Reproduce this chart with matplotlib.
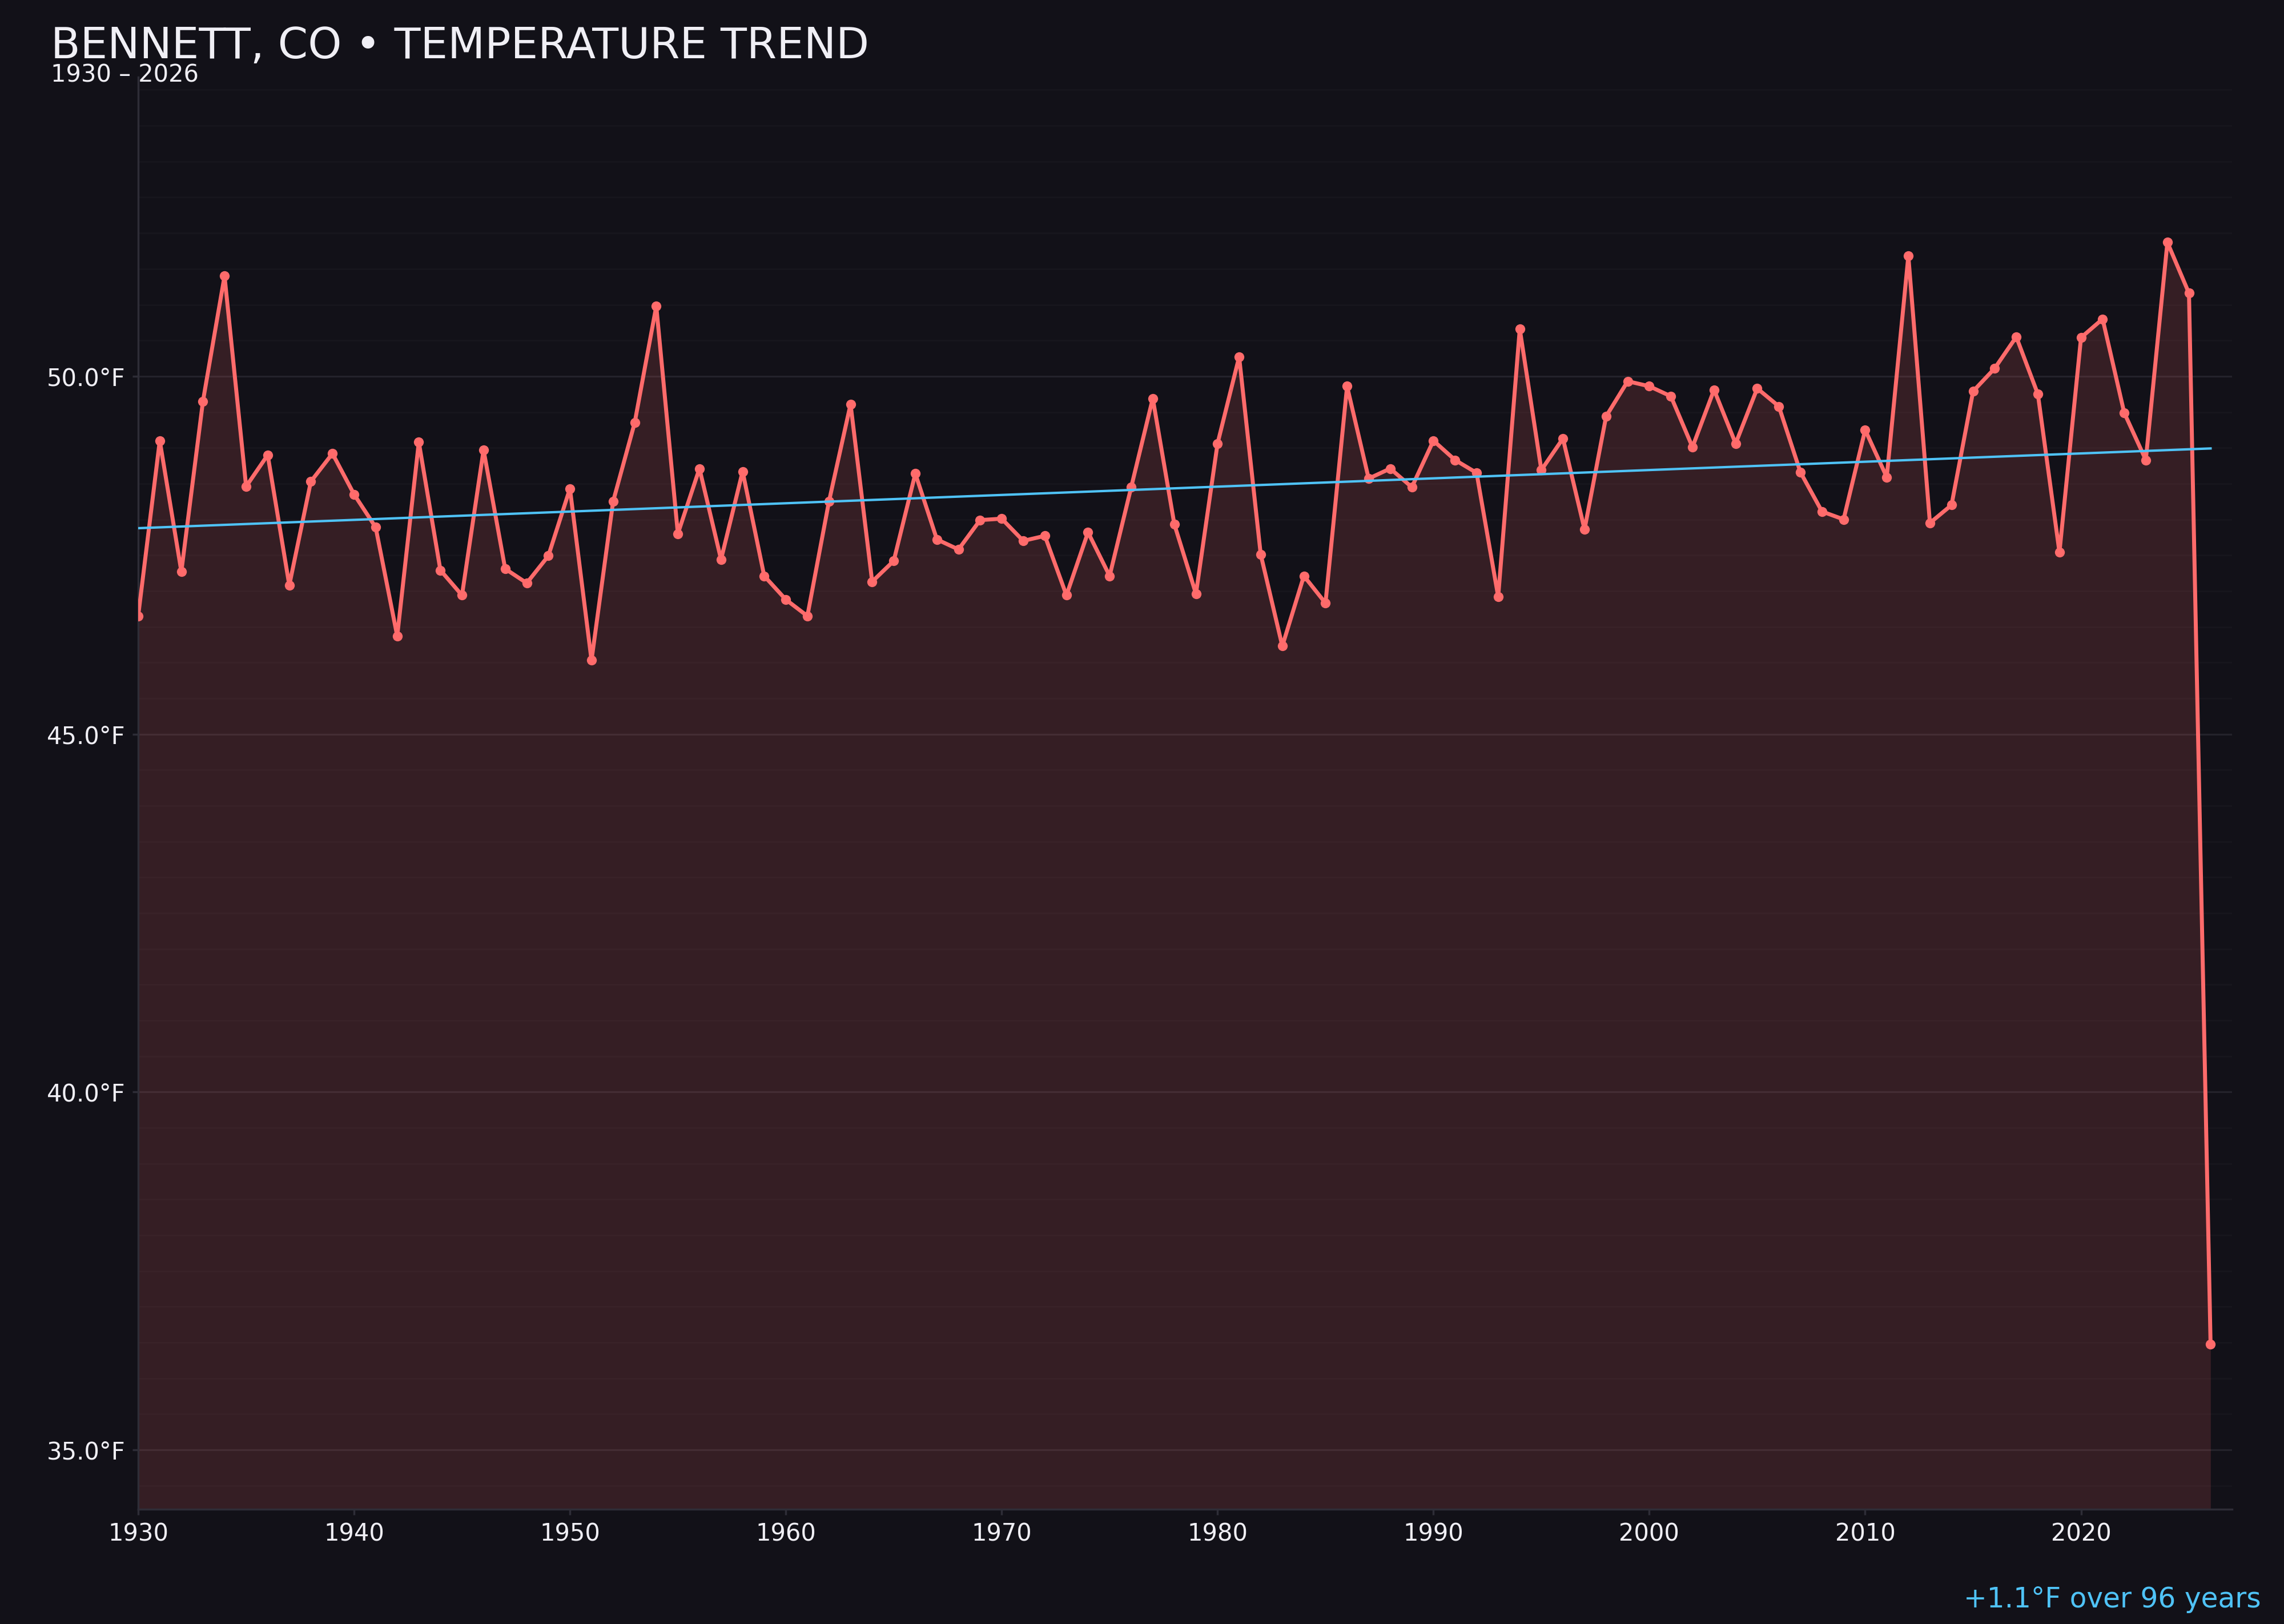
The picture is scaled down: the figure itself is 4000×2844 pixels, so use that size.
import numpy as np
import matplotlib
matplotlib.use("Agg")
import matplotlib.pyplot as plt
from matplotlib.ticker import MultipleLocator, FuncFormatter

# ---- data ----
years = list(range(1930, 2027))
temps = [
    46.65, 49.10, 47.27, 49.65, 51.40, 48.46, 48.90, 47.08, 48.53, 48.92,   # 1930-1939
    48.35, 47.89, 46.37, 49.08, 47.29, 46.94, 48.97, 47.31, 47.11, 47.49,   # 1940-1949
    48.43, 46.03, 48.25, 49.35, 50.98, 47.80, 48.71, 47.44, 48.67, 47.21,   # 1950-1959
    46.88, 46.65, 48.25, 49.61, 47.13, 47.42, 48.64, 47.72, 47.58, 47.99,   # 1960-1969
    48.01, 47.70, 47.77, 46.94, 47.82, 47.21, 48.45, 49.69, 47.93, 46.96,   # 1970-1979
    49.06, 50.27, 47.51, 46.23, 47.21, 46.83, 49.86, 48.57, 48.71, 48.45,   # 1980-1989
    49.10, 48.83, 48.65, 46.92, 50.66, 48.69, 49.13, 47.86, 49.44, 49.93,   # 1990-1999
    49.86, 49.72, 49.01, 49.81, 49.06, 49.83, 49.58, 48.66, 48.11, 48.00,   # 2000-2009
    49.25, 48.59, 51.68, 47.95, 48.20, 49.79, 50.11, 50.55, 49.75, 47.54,   # 2010-2019
    50.54, 50.80, 49.49, 48.83, 51.87, 51.16, 36.48,                        # 2020-2026
]
yticks = [35.0, 40.0, 45.0, 50.0]
title = "BENNETT, CO \u2022 TEMPERATURE TREND"
subtitle = "1930 \u2013 2026"

# ---- style ----
BG = "#121118"
RED = "#ff6b6b"
BLUE = "#4fc3f7"
TXT = "#f0eff5"
GRID_MAJ = "#24232b"
GRID_MIN = "#17161d"
SPINE = "#2e2d37"

plt.rcParams["font.family"] = ["DejaVu Sans"]

x = np.array(years, dtype=float)
y = np.array(temps, dtype=float)

fig = plt.figure(figsize=(16, 11.376), dpi=250, facecolor=BG)
ax = fig.add_axes([0.0605, 0.0707, 0.9168, 0.8818])
ax.set_facecolor(BG)

rng = y.max() - y.min()
ylo, yhi = y.min() - 0.15 * rng, y.max() + 0.15 * rng
ax.set_ylim(ylo, yhi)
ax.set_xlim(x.min(), x.max() + 1)

ax.fill_between(x, y, ylo, color=RED, alpha=0.15, linewidth=0, zorder=1)
ax.plot(x, y, color=RED, linewidth=2.0, marker="o", markersize=5.0,
        markeredgewidth=0, zorder=3)

# linear trend over all years
slope, icpt = np.polyfit(x, y, 1)
xt = np.array([x.min(), x.max()])
ax.plot(xt, slope * xt + icpt, color=BLUE, linewidth=1.2, zorder=4)

change = slope * (x.max() - x.min())
fig.text(0.990, 0.0102, f"{change:+.1f}\u00b0F over {int(x.max() - x.min())} years",
         color=BLUE, fontsize=14, ha="right", va="baseline")

ax.set_yticks(yticks)
ax.yaxis.set_minor_locator(MultipleLocator(0.5))
ax.yaxis.set_major_formatter(FuncFormatter(lambda v, p: f"{v:.1f}\u00b0F"))
ax.xaxis.set_major_locator(MultipleLocator(10))
ax.xaxis.set_major_formatter(FuncFormatter(lambda v, p: f"{int(v)}"))

ax.grid(axis="y", which="major", color=GRID_MAJ, linewidth=0.9, zorder=0)
ax.grid(axis="y", which="minor", color=GRID_MIN, linewidth=0.8, zorder=0)
ax.set_axisbelow(True)

for s in ["top", "right"]:
    ax.spines[s].set_visible(False)
for s in ["left", "bottom"]:
    ax.spines[s].set_color(SPINE)
    ax.spines[s].set_linewidth(1.0)

ax.tick_params(axis="both", which="major", colors=SPINE, labelcolor=TXT,
               labelsize=12, length=3, width=1.0, pad=3.5)
ax.tick_params(axis="y", which="minor", length=0)

fig.text(0.0223, 0.9641, title, color=TXT, fontsize=21.7, ha="left", va="baseline")
fig.text(0.0223, 0.9494, subtitle, color=TXT, fontsize=12, ha="left", va="baseline")

fig.savefig("out.png", dpi=250, facecolor=BG)
